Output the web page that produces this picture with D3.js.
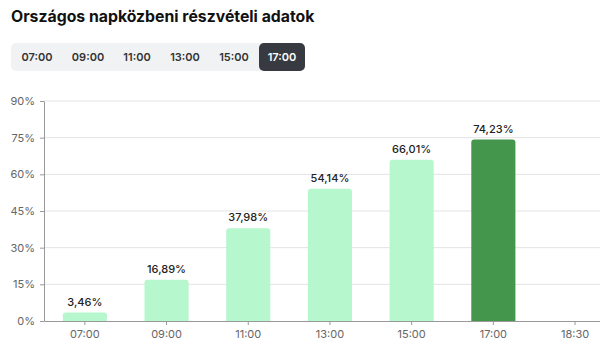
<!DOCTYPE html>
<html>
<head>
<meta charset="utf-8">
<script src="https://cdn.jsdelivr.net/npm/d3@7"></script>
<style>
  body { margin: 0; background: #fff; font-family: Inter, "Noto Sans", sans-serif; overflow: hidden; }
  svg { display: block; }
</style>
</head>
<body>
<svg id="chart" width="600" height="345"></svg>
<script>
var title = "Országos napközbeni részvételi adatok";
var buttons = ["07:00", "09:00", "11:00", "13:00", "15:00", "17:00"];
var activeButton = "17:00";
var categories = ["07:00", "09:00", "11:00", "13:00", "15:00", "17:00", "18:30"];
var values = [3.46, 16.89, 37.98, 54.14, 66.01, 74.23, null];
var yTicks = [0, 15, 30, 45, 60, 75, 90];

var svg = d3.select('#chart');

// title
svg.append('text')
  .attr('x', 11).attr('y', 22)
  .attr('font-size', 15.8).attr('font-weight', 700).attr('fill', '#111')
  .text(title);

// time selector
var bg = svg.append('g');
bg.append('rect')
  .attr('x', 11).attr('y', 43).attr('width', 294).attr('height', 28)
  .attr('rx', 5).attr('fill', '#f1f2f4');
bg.selectAll('rect.btn').data(buttons.filter(function(d) { return d === activeButton; }))
  .enter().append('rect')
    .attr('class', 'btn')
    .attr('x', 259).attr('y', 43)
    .attr('width', 46).attr('height', 28)
    .attr('rx', 5).attr('fill', '#373a40');
var btnCenters = [37, 88, 137, 185, 234, 282];
bg.selectAll('text').data(buttons).enter().append('text')
  .attr('x', function(d, i) { return btnCenters[i]; })
  .attr('y', 61)
  .attr('text-anchor', 'middle')
  .attr('font-size', 11).attr('font-weight', 600)
  .attr('fill', function(d) { return d === activeButton ? '#fff' : '#333'; })
  .text(function(d) { return d; });

// chart
var plotLeft = 44, plotTop = 101, plotBottom = 321;
var x = d3.scaleBand().domain(categories).range([plotLeft, plotLeft + 7 * 81.7]).paddingInner(0.46).paddingOuter(0.23);
var y = d3.scaleLinear().domain([0, 90]).range([plotBottom, plotTop]);

var grid = svg.append('g');
grid.selectAll('line').data(yTicks.filter(function(d) { return d > 0; })).enter().append('line')
  .attr('x1', plotLeft).attr('x2', 620)
  .attr('y1', function(d) { return y(d); })
  .attr('y2', function(d) { return y(d); })
  .attr('stroke', '#e3e3e3').attr('stroke-width', 1);

var yAxis = svg.append('g')
  .attr('transform', 'translate(' + plotLeft + ',0)')
  .call(d3.axisLeft(y).tickValues(yTicks).tickSize(4).tickSizeOuter(0).tickFormat(function(d) { return d + '%'; }));
yAxis.select('.domain').attr('stroke', '#999');
yAxis.selectAll('.tick line').attr('stroke', '#999');
yAxis.selectAll('text').attr('font-size', 11).attr('fill', '#666').attr('font-family', 'Inter, sans-serif').attr('dx', '-2');

var xAxis = svg.append('g')
  .attr('transform', 'translate(0,' + plotBottom + ')')
  .call(d3.axisBottom(x).tickSize(4).tickSizeOuter(0));
xAxis.select('.domain').attr('stroke', '#999');
xAxis.selectAll('.tick line').attr('stroke', '#999');
xAxis.selectAll('text').attr('font-size', 11).attr('fill', '#666').attr('font-family', 'Inter, sans-serif').attr('dy', '0.95em');

var data = categories.map(function(c, i) { return { cat: c, v: values[i] }; })
  .filter(function(d) { return d.v !== null; });

var r = 3;
svg.append('g').selectAll('path').data(data).enter().append('path')
  .attr('d', function(d) {
    var x0 = x(d.cat), w = x.bandwidth(), y0 = y(d.v);
    return 'M' + x0 + ',' + plotBottom + 'V' + (y0 + r) + 'Q' + x0 + ',' + y0 + ' ' + (x0 + r) + ',' + y0 +
      'H' + (x0 + w - r) + 'Q' + (x0 + w) + ',' + y0 + ' ' + (x0 + w) + ',' + (y0 + r) + 'V' + plotBottom + 'Z';
  })
  .attr('fill', function(d) { return d.cat === activeButton ? '#43964b' : '#b6f7cd'; });

svg.append('g').selectAll('text').data(data).enter().append('text')
  .attr('x', function(d) { return x(d.cat) + x.bandwidth() / 2; })
  .attr('y', function(d) { return y(d.v) - 7; })
  .attr('text-anchor', 'middle')
  .attr('font-size', 11)
  .attr('font-weight', 500)
  .attr('fill', '#222')
  .text(function(d) { return d.v.toFixed(2).replace('.', ',') + '%'; });
</script>
</body>
</html>
